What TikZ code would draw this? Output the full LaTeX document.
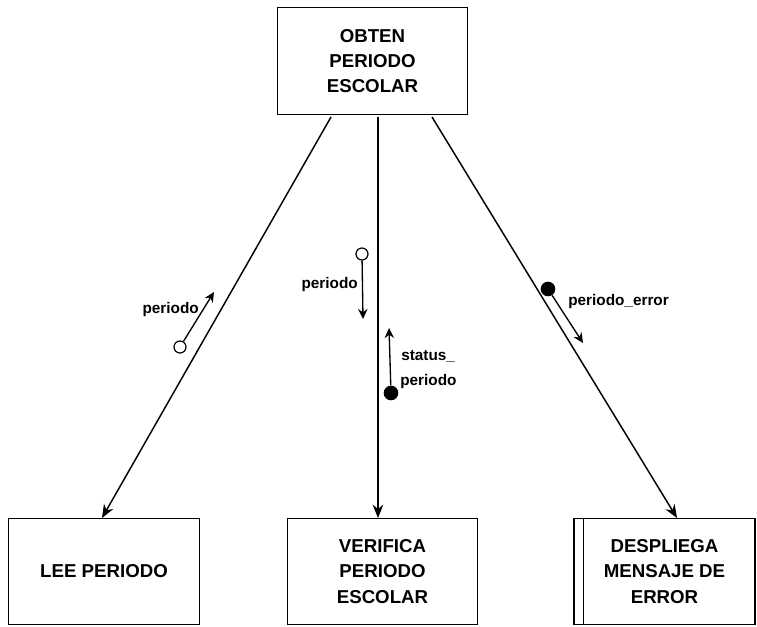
\documentclass[tikz,border=0pt]{standalone}
\usepackage{fontspec}
\setmainfont{Liberation Sans}
\usetikzlibrary{arrows.meta}
\begin{document}
\begin{tikzpicture}[x=0.75pt,y=-0.75pt,
  module/.style={draw,line width=0.8pt,minimum width=143pt,minimum height=80pt,
    align=center,font=\bfseries\fontsize{14}{19}\selectfont,inner sep=0pt},
  call/.style={line width=1.1pt,-{Stealth[length=10pt,width=8pt]}},
  flow/.style={line width=1pt,-{Stealth[length=7.5pt,width=7pt]}},
  hollow/.style={circle,draw,line width=0.9pt,minimum size=9pt,inner sep=0pt,fill=white},
  solid/.style={circle,fill=black,minimum size=11pt,inner sep=0pt},
  tag/.style={font=\bfseries\fontsize{11.5}{15}\selectfont,inner sep=0pt,align=left}]
\useasboundingbox (0,0) rectangle (757,627);

% modules
\node[module] (obten) at (372.5,61) {OBTEN\\PERIODO\\ESCOLAR};
\node[module] (lee) at (104,571.5) {LEE PERIODO};
\node[module] (verif) at (382.5,571.5) {VERIFICA\\PERIODO\\ESCOLAR};
\node[module,minimum width=135.75pt] (desp) at (664.5,571.5) {DESPLIEGA\\MENSAJE DE\\ERROR};
\draw[line width=0.8pt] ([xshift=7.5pt]desp.north west) -- ([xshift=7.5pt]desp.south west);

% call lines
\coordinate (o1) at (331,117);
\coordinate (o2) at (378,117);
\coordinate (o3) at (432,117);
\coordinate (e1) at (102,518);
\coordinate (e2) at (378,518);
\coordinate (e3) at (677,518);
\draw[call] (o1) -- (e1);
\draw[call] (o2) -- (e2);
\draw[call] (o3) -- (e3);

% couple on the left call
\node[hollow] (c1) at (180,347) {};
\coordinate (a1) at (214,292);
\draw[flow] (c1) -- (a1);
\node[tag,anchor=east] (t1) at (199,310) {periodo};

% couples on the middle call
\node[hollow] (c2) at (362,254) {};
\coordinate (a2) at (363,319);
\draw[flow] (c2) -- (a2);
\node[tag,anchor=east] (t2) at (358,285) {periodo};
\node[solid] (c3) at (391,393) {};
\coordinate (a3) at (389,328);
\draw[flow] (c3) -- (a3);
\node[tag,anchor=west] (t3) at (401,356) {status\_};
\node[tag,anchor=west] (t4) at (400,382) {periodo};

% couple on the right call
\node[solid] (c4) at (548,289) {};
\coordinate (a4) at (583,343);
\draw[flow] (c4) -- (a4);
\node[tag,anchor=west] (t5) at (568,302) {periodo\_error};
\end{tikzpicture}
\end{document}
